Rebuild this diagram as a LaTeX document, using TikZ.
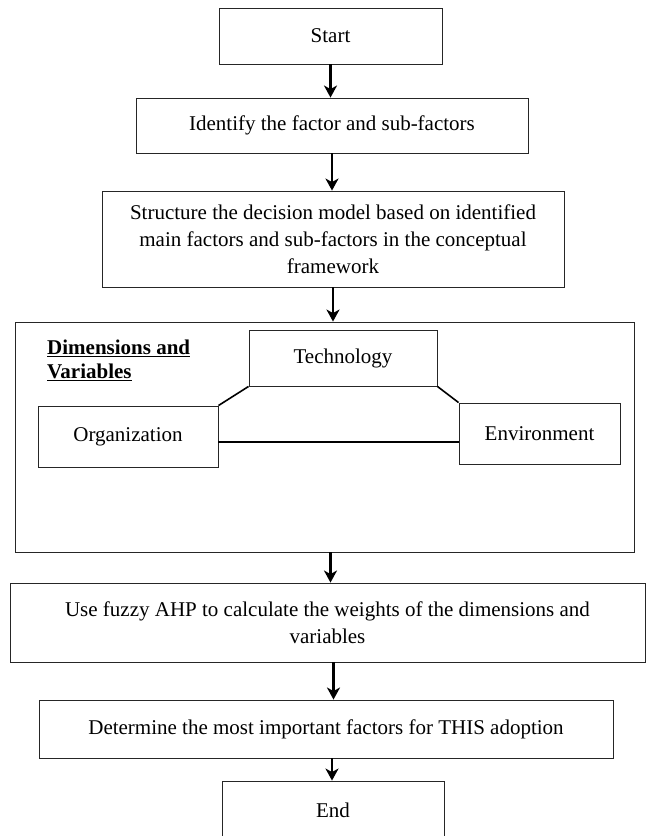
\documentclass[tikz,border=0pt]{standalone}
\usepackage{fontspec}
\setmainfont{Liberation Serif}
\usetikzlibrary{arrows.meta}
\tikzset{
  stepbox/.style={draw=black!85, line width=0.9pt, inner sep=0pt, align=center,
    font=\fontsize{21}{27}\selectfont},
  arr/.style={line width=2.1pt, -{Stealth[length=12pt,width=13pt,inset=3.5pt]}},
  link/.style={line width=1.6pt}
}
\begin{document}
\begin{tikzpicture}[x=1pt,y=-1pt]
\useasboundingbox (0,0) rectangle (646,836);
\node[stepbox, minimum width=223pt, minimum height=56pt] (start) at (330.5,36) {Start};
\node[stepbox, minimum width=392pt, minimum height=55pt] (ident) at (332,125.5) {Identify the factor and sub-factors};
\node[stepbox, minimum width=462pt, minimum height=96pt] (struct) at (333,239)
  {Structure the decision model based on identified\\main factors and sub-factors in the conceptual\\framework};
\node[stepbox, minimum width=619pt, minimum height=230pt] (dims) at (324.5,437) {};
\node[font=\fontsize{21}{24}\selectfont\bfseries, align=left, anchor=north west, inner sep=0pt] (title) at (47,340)
  {\underline{Dimensions and}\\\underline{Variables}};
\node[stepbox, minimum width=188pt, minimum height=56pt] (tech) at (343,358) {Technology};
\node[stepbox, minimum width=180pt, minimum height=61pt] (org) at (128,436.5) {Organization};
\node[stepbox, minimum width=161pt, minimum height=61pt] (env) at (539.5,433.5) {Environment};
\node[stepbox, minimum width=635pt, minimum height=79pt] (fuzzy) at (327.5,622.5)
  {Use fuzzy AHP to calculate the weights of the dimensions and\\variables};
\node[stepbox, minimum width=574pt, minimum height=58pt] (det) at (326,729)
  {Determine the most important factors for THIS adoption};
\node[stepbox, minimum width=222pt, minimum height=58pt] (end) at (333,810) {End};

\draw[link] (tech.south west) -- (org.north east);
\draw[link] (tech.south east) -- (env.north west);
\draw[link] (org.east |- 0,442) -- (env.west |- 0,442);

\draw[arr] (start) -- (start.south |- ident.north);
\draw[arr] (ident) -- (ident.south |- struct.north);
\draw[arr] (struct) -- (struct.south |- dims.north);
\draw[arr] (dims.south) ++(6,0) coordinate (d1) -- (d1 |- fuzzy.north);
\draw[arr] (fuzzy.south) ++(6,0) coordinate (f1) -- (f1 |- det.north);
\draw[arr] (det.south) ++(6,0) coordinate (e1) -- (e1 |- end.north);
\end{tikzpicture}
\end{document}
